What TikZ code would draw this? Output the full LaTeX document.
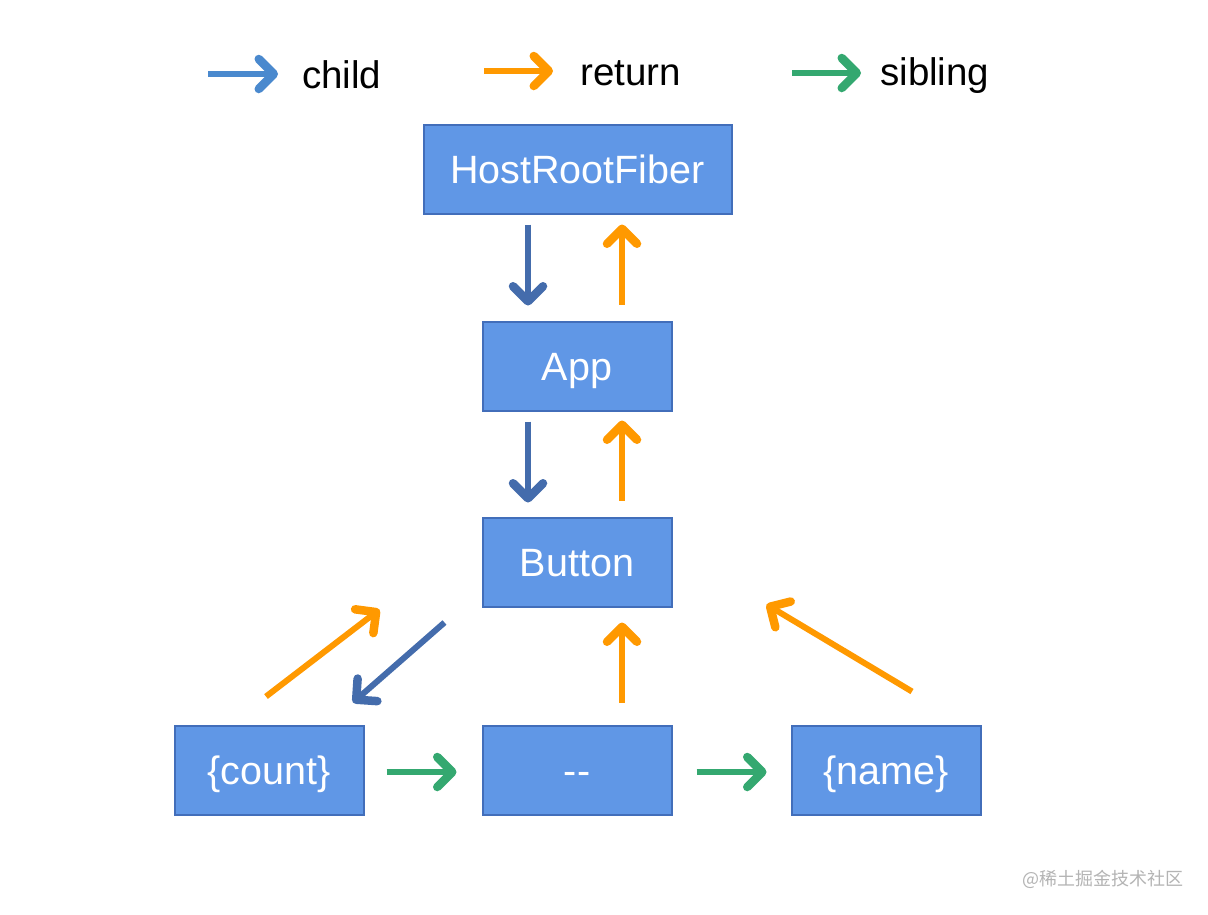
\documentclass[tikz,border=0pt]{standalone}
\usepackage{fontspec}
\setmainfont{Liberation Sans}
\newfontfamily\cjkfont{Noto Sans CJK SC}
\usetikzlibrary{arrows.meta}
\definecolor{boxfill}{RGB}{96,151,230}
\definecolor{boxdraw}{RGB}{66,110,186}
\definecolor{childc}{RGB}{68,108,172}
\definecolor{childleg}{RGB}{74,137,206}
\definecolor{retc}{RGB}{255,153,0}
\definecolor{sibc}{RGB}{52,168,112}
\definecolor{wmark}{RGB}{180,180,180}
\tikzset{
  fiber/.style={draw=boxdraw, fill=boxfill, line width=2pt, minimum width=189pt, minimum height=89pt,
    inner sep=0pt, text height=29pt, text depth=0pt, text=white, font=\fontsize{39.5}{44}\selectfont},
  arr/.style={line width=6pt, -{Straight Barb[length=15pt,width=30pt,line width=8.5pt,round]}},
  childarr/.style={arr, draw=childc},
  childleg/.style={arr, draw=childleg},
  retarr/.style={arr, draw=retc},
  sibarr/.style={arr, draw=sibc},
  legtext/.style={inner sep=0pt, anchor=base west, font=\fontsize{38.5}{44}\selectfont}
}
\begin{document}
\begin{tikzpicture}[x=1pt,y=-1pt]
\useasboundingbox[fill=white] (0,0) rectangle (1208,914);
% legend
\node[legtext] (lc) at (302,88) {child};
\node[legtext] (lr) at (580,85) {return};
\node[legtext] (ls) at (880,85) {sibling};
\coordinate (lca) at (208,74);
\coordinate (lcb) at (278,74);
\coordinate (lra) at (484,71);
\coordinate (lrb) at (553,71);
\coordinate (lsa) at (792,73);
\coordinate (lsb) at (861,73);
\draw[childleg] (lca) -- (lcb);
\draw[retarr] (lra) -- (lrb);
\draw[sibarr] (lsa) -- (lsb);
% nodes
\node[fiber, minimum width=308pt] (hr) at (577.5,169) {HostRootFiber};
\node[fiber] (app) at (577,366) {App};
\node[fiber] (btn) at (577,562) {Button};
\node[fiber] (cnt) at (269,770) {\{count\}};
\node[fiber] (dash) at (577,770) {\mbox{-}\mbox{-}};
\node[fiber] (nm) at (886,770) {\{name\}};
% connectors
\draw[childarr] ([xshift=-49.5pt,yshift=-10pt]hr.south) -- ([xshift=-49pt,yshift=15pt]app.north);
\draw[retarr] ([xshift=45pt,yshift=16pt]app.north) -- ([xshift=44.5pt,yshift=-10pt]hr.south);
\draw[childarr] ([xshift=-49pt,yshift=-10pt]app.south) -- ([xshift=-49pt,yshift=14pt]btn.north);
\draw[retarr] ([xshift=45pt,yshift=16pt]btn.north) -- ([xshift=45pt,yshift=-9pt]app.south);
\draw[childarr] ([xshift=-37pt,yshift=-15pt]btn.south west) -- ([xshift=84pt,yshift=22pt]cnt.north);
\draw[retarr] ([xshift=-3pt,yshift=28pt]cnt.north) -- ([xshift=-102pt,yshift=-2pt]btn.south west);
\draw[retarr] ([xshift=45pt,yshift=22pt]dash.north) -- ([xshift=45pt,yshift=-15pt]btn.south);
\draw[retarr] ([xshift=26pt,yshift=33pt]nm.north) -- ([xshift=94pt,yshift=3pt]btn.south east);
\draw[sibarr] ([xshift=22pt,yshift=-2pt]cnt.east) -- ([xshift=-25pt,yshift=-2pt]dash.west);
\draw[sibarr] ([xshift=24pt,yshift=-2pt]dash.east) -- ([xshift=-24pt,yshift=-2pt]nm.west);
% watermark
\node[anchor=east, inner sep=0pt, text=wmark, font=\cjkfont\fontsize{18}{20}\selectfont] (wm) at (1184,879) {@稀土掘金技术社区};
\end{tikzpicture}
\end{document}
